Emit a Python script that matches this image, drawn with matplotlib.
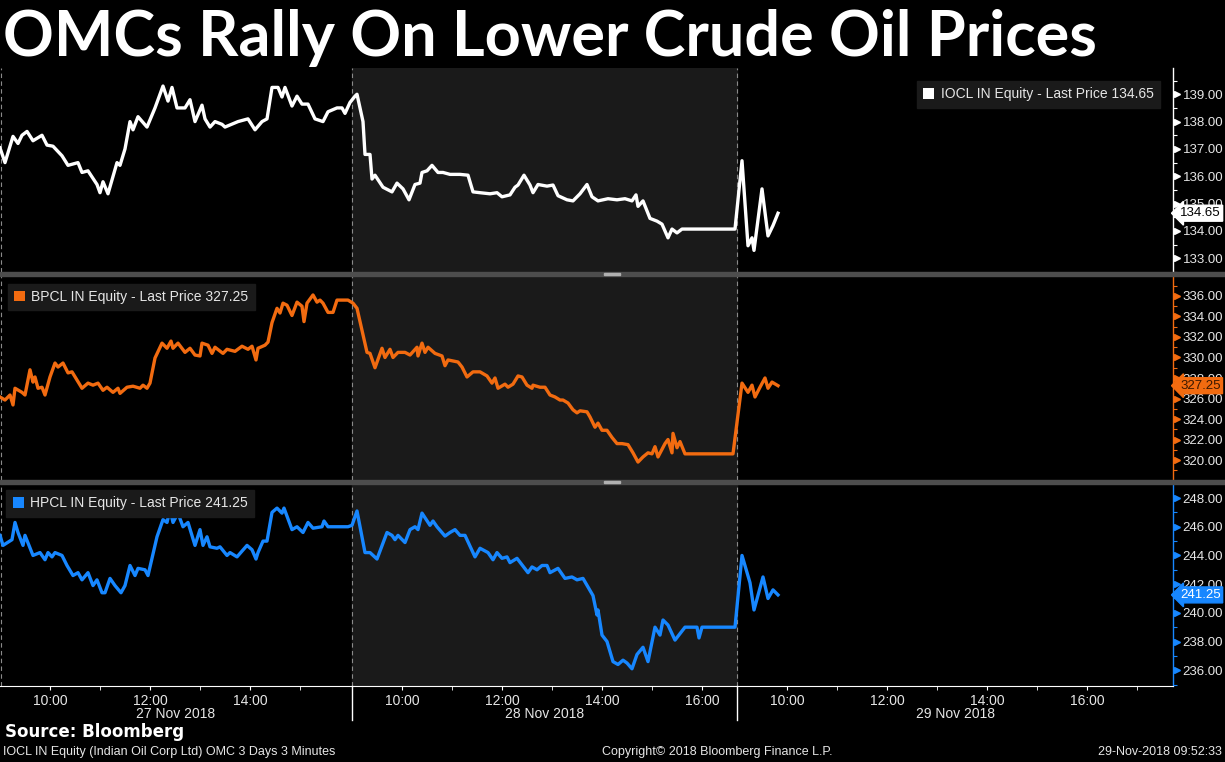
import matplotlib
matplotlib.use("Agg")
import matplotlib.pyplot as plt
import numpy as np
from matplotlib.patches import Patch, Rectangle

plt.rcParams["font.family"] = ["Liberation Sans", "DejaVu Sans"]

# sessions on the x axis, each opens at 9:00
days = ["27 Nov 2018", "28 Nov 2018", "29 Nov 2018"]
day_start = [0.0, 7.04, 14.74]
x_end = 23.46
tick_hours = [[10, 12, 14], [10, 12, 14, 16], [10, 12, 14, 16]]
minor_hours = [[11, 13, 15], [11, 13, 15], [11, 13, 15, 17]]

# IOCL IN Equity, time of day (hours) and price, one list per day
iocl_t = [
    [9.00, 9.10, 9.26, 9.36, 9.44, 9.54, 9.66, 9.84, 9.94, 10.06, 10.24, 10.36, 10.56, 10.64,
     10.76, 10.94, 11.00, 11.06, 11.16, 11.34, 11.40, 11.50, 11.60, 11.66, 11.76, 11.94, 12.10,
     12.26, 12.36, 12.44, 12.54, 12.70, 12.80, 12.90, 13.04, 13.10, 13.20, 13.30, 13.44, 13.50,
     13.76, 13.96, 14.10, 14.24, 14.34, 14.44, 14.56, 14.64, 14.70, 14.84, 14.94, 15.04, 15.16,
     15.30, 15.46, 15.56, 15.74, 15.84, 15.90, 16.00],
    [9.06, 9.10, 9.22, 9.26, 9.36, 9.40, 9.46, 9.62, 9.80, 9.90, 10.02, 10.14, 10.26, 10.36,
     10.40, 10.50, 10.60, 10.72, 10.82, 10.96, 11.16, 11.32, 11.42, 11.56, 11.76, 11.90, 12.00,
     12.16, 12.26, 12.32, 12.44, 12.56, 12.62, 12.72, 12.90, 13.02, 13.12, 13.30, 13.42, 13.56,
     13.70, 13.80, 13.92, 14.12, 14.30, 14.46, 14.60, 14.68, 14.72, 14.82, 14.96, 15.10, 15.20,
     15.32, 15.40, 15.50, 15.60, 15.70, 16.66],
    [9.10, 9.22, 9.30, 9.34, 9.50, 9.62, 9.72, 9.82],
]
iocl_v = [
    [137.04, 136.5, 137.46, 137.2, 137.5, 137.64, 137.3, 137.5, 137.14, 137.1, 136.75, 136.4,
     136.5, 136.14, 136.2, 135.7, 135.4, 135.8, 135.36, 136.5, 136.4, 137.0, 138.0, 137.7,
     138.18, 137.8, 138.5, 139.3, 138.75, 139.25, 138.5, 138.5, 138.8, 138.0, 138.6, 138.1,
     137.8, 138.0, 137.9, 137.8, 138.0, 138.1, 137.7, 138.0, 138.1, 139.25, 139.25, 138.9,
     139.25, 138.57, 138.93, 138.64, 138.64, 138.1, 138.0, 138.36, 138.5, 138.5, 138.3, 138.7],
    [138.93, 139.0, 138.0, 136.8, 136.8, 135.9, 136.04, 135.6, 135.43, 135.75, 135.54, 135.14,
     135.7, 135.75, 136.14, 136.2, 136.4, 136.14, 136.14, 136.07, 136.07, 136.04, 135.43, 135.4,
     135.36, 135.4, 135.25, 135.32, 135.6, 135.68, 136.04, 135.68, 135.4, 135.7, 135.64, 135.68,
     135.29, 135.14, 135.1, 135.36, 135.7, 135.25, 135.1, 135.18, 135.14, 135.18, 135.1, 135.32,
     134.9, 135.1, 134.46, 134.36, 134.25, 133.75, 134.07, 133.93, 134.07, 134.07, 134.07],
    [136.57, 133.46, 133.75, 133.29, 135.54, 133.82, 134.2, 134.65],
]

# BPCL IN Equity
bpcl_t = [
    [9.00, 9.10, 9.20, 9.26, 9.30, 9.44, 9.50, 9.60, 9.66, 9.70, 9.76, 9.84, 9.90, 10.00, 10.10,
     10.16, 10.26, 10.36, 10.44, 10.64, 10.76, 10.86, 10.96, 11.06, 11.14, 11.26, 11.36, 11.40,
     11.54, 11.66, 11.80, 11.86, 11.94, 12.00, 12.10, 12.24, 12.34, 12.42, 12.46, 12.56, 12.70,
     12.80, 12.90, 13.00, 13.04, 13.16, 13.24, 13.30, 13.46, 13.54, 13.70, 13.84, 13.96, 14.04,
     14.12, 14.16, 14.30, 14.36, 14.44, 14.54, 14.60, 14.66, 14.74, 14.84, 14.94, 15.04, 15.08,
     15.14, 15.26, 15.34, 15.40, 15.46, 15.56, 15.66, 15.74, 15.96],
    [9.02, 9.10, 9.30, 9.36, 9.46, 9.60, 9.66, 9.76, 9.82, 9.92, 10.06, 10.16, 10.30, 10.32,
     10.40, 10.46, 10.52, 10.66, 10.80, 10.86, 10.92, 11.12, 11.20, 11.30, 11.42, 11.56, 11.70,
     11.80, 11.86, 11.92, 12.06, 12.12, 12.22, 12.32, 12.40, 12.50, 12.60, 12.62, 12.76, 12.86,
     12.96, 13.06, 13.16, 13.22, 13.32, 13.42, 13.50, 13.56, 13.70, 13.76, 13.86, 13.92, 14.00,
     14.10, 14.20, 14.30, 14.40, 14.52, 14.62, 14.72, 14.82, 14.92, 15.00, 15.06, 15.12, 15.26,
     15.32, 15.40, 15.42, 15.50, 15.56, 15.66, 16.62],
    [9.10, 9.22, 9.30, 9.36, 9.46, 9.56, 9.62, 9.70, 9.82],
]
bpcl_v = [
    [326.15, 325.85, 326.34, 325.37, 327.0, 326.6, 326.34, 328.8, 327.6, 328.1, 327.0, 327.1,
     326.34, 328.1, 329.46, 329.07, 329.46, 328.5, 328.6, 327.0, 327.5, 327.3, 327.5, 326.8,
     327.1, 326.6, 327.0, 326.5, 327.1, 327.2, 327.0, 327.3, 327.0, 327.5, 329.95, 331.4, 330.9,
     331.6, 330.9, 331.4, 330.5, 330.9, 330.24, 330.15, 331.4, 331.2, 330.4, 331.0, 330.4, 330.8,
     330.6, 331.1, 330.8, 331.1, 329.76, 330.9, 331.2, 331.5, 333.4, 334.8, 334.34, 335.3, 335.1,
     334.1, 335.4, 335.0, 333.5, 335.3, 336.1, 335.4, 335.6, 335.3, 334.4, 334.4, 335.6, 335.6],
    [335.3, 334.8, 330.5, 330.4, 329.0, 330.9, 330.0, 330.8, 330.0, 330.5, 330.5, 330.24, 331.0,
     330.15, 331.4, 330.5, 331.0, 330.4, 330.15, 329.2, 329.76, 329.56, 329.07, 328.1, 328.6,
     328.6, 328.2, 327.5, 328.0, 327.0, 327.4, 327.1, 327.4, 328.2, 328.1, 327.3, 327.0, 327.3,
     327.1, 327.1, 326.34, 326.15, 325.85, 325.85, 325.56, 324.9, 324.6, 324.8, 324.7, 324.2,
     323.2, 323.6, 322.9, 322.9, 322.2, 321.6, 321.6, 321.5, 320.7, 319.8, 320.3, 320.7, 320.6,
     321.3, 320.3, 321.6, 322.0, 320.7, 322.6, 321.2, 321.8, 320.6, 320.6],
    [327.5, 326.6, 327.3, 326.15, 327.1, 328.0, 327.0, 327.6, 327.25],
]

# HPCL IN Equity
hpcl_t = [
    [9.00, 9.06, 9.24, 9.30, 9.36, 9.46, 9.50, 9.66, 9.80, 9.90, 9.96, 10.04, 10.10, 10.24,
     10.34, 10.46, 10.56, 10.64, 10.76, 10.86, 10.94, 11.04, 11.10, 11.20, 11.30, 11.42, 11.50,
     11.60, 11.70, 11.76, 11.90, 11.96, 12.14, 12.26, 12.34, 12.40, 12.46, 12.56, 12.66, 12.76,
     12.90, 13.00, 13.06, 13.14, 13.20, 13.34, 13.40, 13.54, 13.60, 13.74, 13.94, 14.04, 14.12,
     14.16, 14.26, 14.34, 14.44, 14.54, 14.64, 14.68, 14.84, 14.94, 15.06, 15.16, 15.26, 15.44,
     15.48, 15.56, 15.80, 15.96],
    [9.00, 9.10, 9.26, 9.36, 9.50, 9.70, 9.80, 9.86, 9.92, 10.06, 10.16, 10.26, 10.32, 10.40,
     10.56, 10.62, 10.70, 10.86, 10.96, 11.06, 11.16, 11.26, 11.46, 11.56, 11.72, 11.82, 11.90,
     12.00, 12.10, 12.16, 12.30, 12.52, 12.60, 12.70, 12.80, 12.90, 12.96, 13.12, 13.26, 13.40,
     13.50, 13.62, 13.72, 13.82, 13.90, 13.92, 14.00, 14.10, 14.22, 14.32, 14.42, 14.50, 14.60,
     14.70, 14.82, 14.92, 15.06, 15.16, 15.22, 15.32, 15.46, 15.66, 15.90, 15.94, 16.00, 16.66],
    [9.10, 9.26, 9.34, 9.52, 9.62, 9.72, 9.82],
]
hpcl_v = [
    [245.4, 244.7, 245.1, 246.3, 245.6, 244.7, 245.4, 244.0, 244.2, 243.7, 244.2, 243.9, 244.2,
     244.0, 243.3, 242.6, 242.8, 242.3, 242.8, 241.9, 242.3, 241.4, 241.4, 242.4, 241.9, 241.4,
     241.9, 243.3, 242.6, 243.1, 243.0, 242.6, 245.3, 246.5, 246.3, 247.2, 246.3, 246.95, 246.0,
     246.3, 244.7, 245.8, 244.7, 245.3, 244.6, 244.5, 244.6, 244.0, 244.2, 243.9, 244.7, 244.4,
     243.75, 244.2, 245.0, 245.0, 247.0, 247.3, 246.95, 247.3, 245.8, 246.0, 245.6, 246.3, 245.9,
     246.0, 246.4, 246.0, 246.0, 246.0],
    [246.1, 247.1, 244.2, 244.2, 243.75, 245.6, 245.4, 245.1, 245.4, 244.9, 245.8, 246.0, 245.8,
     246.95, 246.1, 246.4, 246.0, 245.35, 245.6, 245.8, 245.4, 245.4, 243.9, 244.5, 244.2, 243.7,
     244.2, 243.8, 243.9, 243.5, 243.8, 242.8, 243.2, 243.0, 243.3, 243.3, 242.8, 243.1, 242.4,
     242.5, 242.3, 242.4, 241.8, 241.2, 239.85, 240.2, 238.45, 238.0, 236.6, 236.4, 236.7, 236.5,
     236.1, 237.1, 237.6, 236.6, 239.0, 238.45, 239.5, 239.15, 238.1, 239.0, 239.0, 238.25,
     239.0, 239.0],
    [244.0, 242.1, 240.2, 242.5, 241.0, 241.6, 241.25],
]

names = ["IOCL IN Equity - Last Price 134.65", "BPCL IN Equity - Last Price 327.25",
         "HPCL IN Equity - Last Price 241.25"]
last_prices = [134.65, 327.25, 241.25]
colors = ["#ffffff", "#f26b10", "#1787ff"]
tag_text = ["#000000", "#3b1800", "#ffffff"]
ylims = [(132.68, 139.96), (318.05, 337.95), (234.9, 248.98)]
major_ticks = [np.arange(133, 140, 1), np.arange(320, 337, 2), np.arange(236, 249, 2)]
minor_ticks = [np.arange(132.5, 140, 0.5), np.arange(319, 338, 1), np.arange(235, 249, 1)]
legend_loc = ["upper right", "upper left", "upper left"]
legend_pad = [0.95, 0.55, 0.45]


def positions(times):
    xs = []
    for d, tt in enumerate(times):
        xs += [day_start[d] + t - 9 for t in tt]
    return xs


fig = plt.figure(figsize=(12.25, 7.62), dpi=100, facecolor="black")
H = 762.0
W = 1225.0
panels = [(68, 272), (276, 480), (484, 686)]
axes = []
for top, bot in panels:
    ax = fig.add_axes([0, 1 - bot / H, 1173 / W, (bot - top) / H])
    axes.append(ax)

series = [(iocl_t, iocl_v), (bpcl_t, bpcl_v), (hpcl_t, hpcl_v)]
for i, ax in enumerate(axes):
    ax.set_facecolor("black")
    ax.axvspan(day_start[1], day_start[2], color="#1a1a1a", zorder=0)
    for xb in [0.02, day_start[1], day_start[2]]:
        ax.axvline(xb, color="#8a8a8a", lw=0.8, ls=(0, (4, 3)), zorder=1)
    t, v = series[i]
    ax.plot(positions(t), sum(v, []), color=colors[i], lw=2.4, zorder=3,
            solid_joinstyle="round")
    ax.set_xlim(0, x_end)
    ax.set_ylim(*ylims[i])
    for s in ["top", "left", "bottom"]:
        ax.spines[s].set_visible(False)
    ax.spines["right"].set_color(colors[i])
    ax.spines["right"].set_linewidth(1.0)
    ax.yaxis.tick_right()
    ax.set_yticks(major_ticks[i])
    ax.set_yticks(minor_ticks[i], minor=True)
    ax.set_yticklabels(["%.2f" % m for m in major_ticks[i]])
    ax.tick_params(axis="y", which="major", length=0, pad=7, labelsize=9.5,
                   labelcolor="#e6e6e6")
    ax.tick_params(axis="y", which="minor", length=3, color=colors[i], width=0.8)
    ax.plot(np.full(len(major_ticks[i]), 1.003), major_ticks[i], marker=">", ls="none",
            ms=5, color=colors[i], transform=ax.get_yaxis_transform(), clip_on=False)
    ax.set_xticks([])

    leg = ax.legend(handles=[Patch(facecolor=colors[i], label=names[i])], loc=legend_loc[i],
                    fontsize=10, frameon=True, fancybox=False, facecolor="#1a1a1a",
                    edgecolor="#1a1a1a", framealpha=1, labelcolor="#e6e6e6",
                    handlelength=0.8, handleheight=0.8, handletextpad=0.45,
                    borderpad=0.45, borderaxespad=legend_pad[i])
    leg.set_zorder(5)

    ax.text(1.006, last_prices[i], "%.2f" % last_prices[i], transform=ax.get_yaxis_transform(),
            ha="left", va="center", fontsize=9.5, color=tag_text[i], zorder=6, clip_on=False,
            bbox=dict(boxstyle="larrow,pad=0.15", fc=colors[i], ec=colors[i]))

# x axis on the bottom panel
ax3 = axes[2]
ax3.spines["bottom"].set_visible(True)
ax3.spines["bottom"].set_color("white")
major_pos, major_lab, minor_pos = [], [], []
for d in range(3):
    for h in tick_hours[d]:
        major_pos.append(day_start[d] + h - 9)
        major_lab.append("%d:00" % h)
    for h in minor_hours[d]:
        minor_pos.append(day_start[d] + h - 9)
ax3.set_xticks(major_pos)
ax3.set_xticklabels(major_lab)
ax3.set_xticks(minor_pos, minor=True)
ax3.tick_params(axis="x", which="both", colors="white", length=3, labelsize=10, pad=3)
ax3.tick_params(axis="x", which="major", labelcolor="#e6e6e6")
for d in range(3):
    x0 = day_start[d]
    x1 = day_start[d + 1] if d < 2 else x_end
    ax3.text((x0 + x1) / 2, -28 / 202, days[d], transform=ax3.get_xaxis_transform(),
             ha="center", va="center", fontsize=10, color="#e6e6e6")
for xb in day_start[1:]:
    ax3.plot([xb, xb], [0, -34 / 202], color="white", lw=1, transform=ax3.get_xaxis_transform(),
             clip_on=False)

# panel separators
for y0 in [272, 480]:
    fig.patches.append(Rectangle((0, 1 - (y0 + 4) / H), 1, 4 / H, color="#4d4d4d",
                                 transform=fig.transFigure, zorder=10))
    for dy in [1.2, 2.8]:
        fig.patches.append(Rectangle((604 / W, 1 - (y0 + dy) / H - 0.4 / H), 16 / W, 0.8 / H,
                                     color="#b0b0b0", transform=fig.transFigure, zorder=11))

# title and footer
title = fig.text(3 / W, 1 - 56 / H, "OMCs Rally On Lower Crude Oil Prices", color="white",
                 fontsize=40, fontweight="bold", family="Lato", va="baseline")
fig.canvas.draw()
w = title.get_window_extent().width
title.set_fontsize(40 * 1094 / w)

fig.text(5 / W, 1 - 732 / H, "Source: Bloomberg", color="white", fontsize=12,
         fontweight="bold", family="DejaVu Sans", va="center")
fig.text(3 / W, 1 - 752 / H, "IOCL IN Equity (Indian Oil Corp Ltd) OMC 3 Days 3 Minutes",
         color="#e6e6e6", fontsize=9, va="center")
fig.text(717 / W, 1 - 752 / H, "Copyright\u00a9 2018 Bloomberg Finance L.P.", color="#e6e6e6",
         fontsize=9, va="center", ha="center")
fig.text(1222 / W, 1 - 752 / H, "29-Nov-2018 09:52:33", color="#e6e6e6", fontsize=9,
         va="center", ha="right")

fig.savefig("out.png", dpi=100, facecolor="black")
